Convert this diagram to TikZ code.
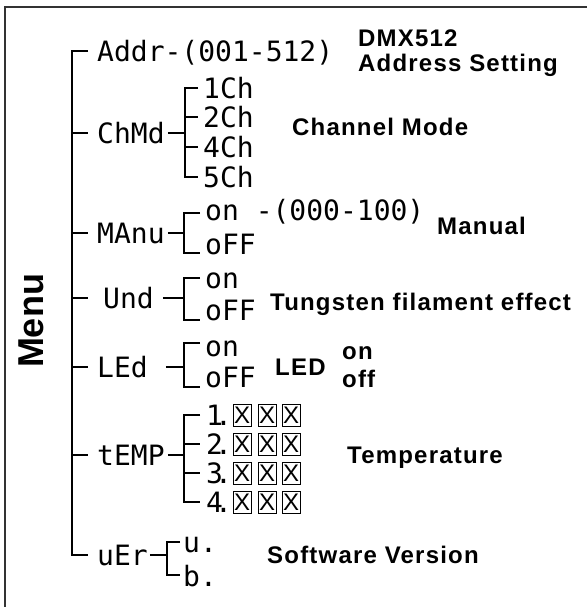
\documentclass[tikz,border=0pt]{standalone}
\usepackage{fontspec}
\setmainfont{Liberation Sans}
\newfontfamily\segfont{DejaVu Sans Mono}
\newfontfamily\lblfont[LetterSpace=5]{Liberation Sans}
\newcommand\boxX{\fontsize{24}{24}\selectfont X}
\usetikzlibrary{positioning}

\begin{document}
\begin{tikzpicture}[x=1pt, y=-1pt,
	seg/.style={font=\segfont\fontsize{28}{28}\selectfont, inner sep=0pt, text height=20.4pt, text depth=0pt, anchor=west},
	lbl/.style={font=\lblfont\bfseries\fontsize{24}{24}\selectfont, inner sep=0pt, text height=17.2pt, text depth=0pt, anchor=west},
	xbox/.style={draw, line width=0.8pt, minimum width=18pt, minimum height=22pt, inner sep=0pt},
	tree/.style={line width=1.8pt}]
	\useasboundingbox (0,0) rectangle (587,607);
	\draw[black!80, line width=1.5pt] (5,607) |- (587,7);

	\node[rotate=90, font=\bfseries\fontsize{36}{36}\selectfont] (menu) at (31,321) {Menu};

	% first level of the menu
	\node[seg] (addr) at (97,51) {Addr-(001-512)};
	\node[seg] (chmd) at (97,133) {ChMd};
	\node[seg] (manu) at (97,233) {MAnu};
	\node[seg] (und) at (103,298) {Und};
	\node[seg] (led) at (97,367) {LEd};
	\node[seg] (temp) at (97,455) {tEMP};
	\node[seg] (ver) at (97,555) {uEr};
	\coordinate (ttop) at (72,51);
	\coordinate (tbot) at (72,555);
	\draw[tree, shorten <=9pt, shorten >=9pt] (ttop -| addr.west) -- (ttop) -- (tbot) -- (tbot -| ver.west);
	\foreach \n/\s in {chmd/9pt, manu/9pt, und/15pt, led/9pt, temp/9pt}
		\draw[tree, shorten >=\s] (\n.west -| ttop) -- (\n.west);
	\node[lbl, anchor=base west] (dmx) at (358,47) {DMX512};
	\node[lbl, anchor=base west] (addrlbl) at (358,72) {Address Setting};

	% channel mode
	\foreach \m/\y in {1/88, 2/117, 4/147, 5/177}
		\node[seg] (ch\m) at (203,\y) {\m Ch};
	\coordinate (ctop) at (185,88);
	\coordinate (cbot) at (185,177);
	\draw[tree, shorten <=5pt, shorten >=5pt] (ctop -| ch1.west) -- (ctop) -- (cbot) -- (cbot -| ch5.west);
	\foreach \m in {2,4}
		\draw[tree, shorten >=5pt] (ch\m.west -| ctop) -- (ch\m.west);
	\draw[tree, shorten <=3pt] (chmd.east) -- (chmd.east -| ctop);
	\node[lbl] (chlbl) at (292,127) {Channel Mode};

	% manual
	\coordinate (mtop) at (184,213);
	\coordinate (mbot) at (184,253);
	\node[seg] (manuon) at (205,210) {on -(000-100)};
	\node[seg] (manuoff) at (205,244) {oFF};
	\draw[tree, shorten <=5pt, shorten >=5pt] (mtop -| manuon.west) -- (mtop) -- (mbot) -- (mbot -| manuoff.west);
	\draw[tree, shorten <=3pt] (manu.east) -- (manu.east -| mtop);
	\node[lbl] (manulbl) at (437,226) {Manual};

	% tungsten
	\coordinate (utop) at (184,278);
	\coordinate (ubot) at (184,320);
	\node[seg] (undon) at (205,278) {on};
	\node[seg] (undoff) at (205,310) {oFF};
	\draw[tree, shorten <=5pt, shorten >=5pt] (utop -| undon.west) -- (utop) -- (ubot) -- (ubot -| undoff.west);
	\draw[tree, shorten <=9pt] (und.east) -- (und.east -| utop);
	\node[lbl] (undlbl) at (270,302) {Tungsten filament effect};

	% led
	\coordinate (ltop) at (184,343);
	\coordinate (lbot) at (184,387);
	\node[seg] (ledon) at (205,346) {on};
	\node[seg] (ledoff) at (205,377) {oFF};
	\draw[tree, shorten <=5pt, shorten >=5pt] (ltop -| ledon.west) -- (ltop) -- (lbot) -- (lbot -| ledoff.west);
	\draw[tree, shorten <=18pt] (led.east) -- (led.east -| ltop);
	\node[lbl] (ledlbl) at (275,367) {LED};
	\node[lbl, anchor=base west] (ledlblon) at (342,359) {on};
	\node[lbl, anchor=base west] (ledlbloff) at (342,387) {off};

	% temperature
	\foreach \i/\y in {1/415, 2/444, 3/473, 4/502} {
		\node[seg] (r\i) at (206,\y) {\i\kern-8pt.};
		\foreach \j/\x in {a/242, b/267, c/291}
			\node[xbox] (r\i\j) at (\x,\y) {\boxX};
	}
	\draw[tree, shorten <=6pt, shorten >=6pt] (r1.west) -| (184,0 |- r4.west) -- (r4.west);
	\foreach \i in {2,3}
		\draw[tree, shorten >=6pt] (r\i.west -| 184,0) -- (r\i.west);
	\draw[tree, shorten <=3pt] (temp.east) -- (temp.east -| 184,0);
	\node[lbl] (templbl) at (347,455) {Temperature};

	% software version
	\coordinate (vtop) at (167,542);
	\coordinate (vbot) at (167,575);
	\node[seg] (veru) at (183,542) {u.};
	\node[seg] (verb) at (183,576) {b.};
	\draw[tree, shorten <=3pt, shorten >=3pt] (vtop -| veru.west) -- (vtop) -- (vbot) -- (vbot -| verb.west);
	\draw[tree, shorten <=2pt] (ver.east) -- (ver.east -| vtop);
	\node[lbl] (verlbl) at (267,555) {Software Version};
\end{tikzpicture}
\end{document}
